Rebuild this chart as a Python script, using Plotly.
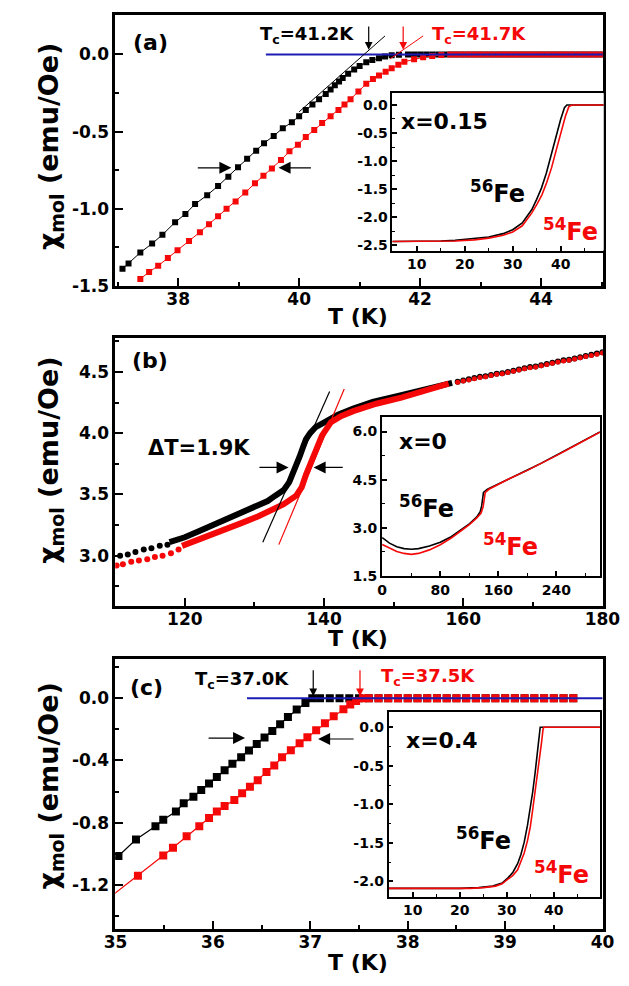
import plotly.graph_objects as go

W, H = 629, 986

# ---------------- data ----------------
# panel (a): x=0.15, main
A_T56 = [37.08, 37.18, 37.375, 37.57, 37.74, 37.95, 38.12, 38.28, 38.48, 38.66, 38.83, 38.99, 39.14,
         39.29, 39.42, 39.58, 39.73, 39.88, 40.0, 40.11, 40.22, 40.33, 40.44, 40.52, 40.59, 40.66,
         40.72, 40.81, 40.91, 41.0, 41.11, 41.21, 41.32, 41.42, 41.53, 41.65,
         41.8, 41.9, 42.0, 42.1, 42.2, 42.3, 42.4, 42.5, 42.6, 42.7, 42.8, 42.9, 43.0, 43.1, 43.2,
         43.3, 43.4, 43.5, 43.6, 43.7, 43.8, 43.9, 44.0, 44.1, 44.2, 44.3, 44.4, 44.5, 44.6, 44.7,
         44.8, 44.9, 45.0]
A_X56 = [-1.39, -1.355, -1.284, -1.226, -1.169, -1.088, -1.034, -0.970, -0.912, -0.853, -0.793,
         -0.731, -0.677, -0.624, -0.575, -0.528, -0.478, -0.44, -0.40, -0.36, -0.325, -0.29, -0.256,
         -0.228, -0.20, -0.175, -0.152, -0.125, -0.098, -0.075, -0.051, -0.036, -0.024, -0.013,
         -0.005, -0.002,
         0.0, 0.0, 0.0, 0.0, 0.0, 0.0, 0.0, 0.0, 0.0, 0.0, 0.0, 0.0, 0.0, 0.0, 0.0, 0.0, 0.0, 0.0,
         0.0, 0.0, 0.0, 0.0, 0.0, 0.0, 0.0, 0.0, 0.0, 0.0, 0.0, 0.0, 0.0, 0.0, 0.0]
A_T54 = [37.375, 37.52, 37.67, 37.83, 37.99, 38.18, 38.36, 38.51, 38.66, 38.80, 38.95, 39.11, 39.27,
         39.41, 39.55, 39.70, 39.84, 39.98, 40.11, 40.25, 40.38, 40.52, 40.65, 40.75, 40.85, 40.98,
         41.11, 41.22, 41.32, 41.43, 41.53, 41.64, 41.74, 41.9, 42.05, 42.2, 42.35,
         42.5, 42.6, 42.7, 42.8, 42.9, 43.0, 43.1, 43.2, 43.3, 43.4, 43.5, 43.6, 43.7, 43.8, 43.9,
         44.0, 44.1, 44.2, 44.3, 44.4, 44.5, 44.6, 44.7, 44.8, 44.9, 45.0]
A_X54 = [-1.455, -1.41, -1.37, -1.32, -1.27, -1.21, -1.152, -1.10, -1.049, -1.00, -0.953, -0.895,
         -0.835, -0.787, -0.739, -0.685, -0.628, -0.585, -0.535, -0.49, -0.445, -0.40, -0.361,
         -0.325, -0.29, -0.24, -0.19, -0.16, -0.137, -0.112, -0.09, -0.067, -0.047, -0.032, -0.019,
         -0.01, -0.004,
         0.0, 0.0, 0.0, 0.0, 0.0, 0.0, 0.0, 0.0, 0.0, 0.0, 0.0, 0.0, 0.0, 0.0, 0.0, 0.0, 0.0, 0.0,
         0.0, 0.0, 0.0, 0.0, 0.0, 0.0, 0.0, 0.0, 0.0, 0.0]
A_TAN56_T = [40.0, 41.42]
A_TAN56_X = [-0.372, 0.12]
A_TAN54_T = [41.5, 42.05]
A_TAN54_X = [-0.03, 0.12]
A_BASE_T = [39.45, 45.02]
A_BASE_X = [0.0, 0.0]
A_TC = [41.15, 41.72]

# panel (a) inset
AI_T56 = [4.9, 10, 15, 18, 22, 25, 28, 30, 32, 33, 34, 35, 36, 37, 38, 39, 40, 40.8, 41.3, 45, 49]
AI_X56 = [-2.43, -2.43, -2.42, -2.41, -2.38, -2.35, -2.29, -2.22, -2.10, -1.99, -1.86, -1.68,
          -1.48, -1.22, -0.92, -0.58, -0.26, -0.05, 0.0, 0.0, 0.0]
AI_T54 = [4.9, 10, 15, 18, 22, 25, 28, 30, 32, 33.1, 34, 35.1, 36.1, 37.1, 38.1, 39.1, 40.4, 41.0,
          41.7, 42.4, 45, 49]
AI_X54 = [-2.43, -2.43, -2.43, -2.42, -2.40, -2.37, -2.32, -2.26, -2.15, -2.03, -1.92, -1.76,
          -1.60, -1.38, -1.12, -0.80, -0.39, -0.20, -0.035, 0.0, 0.0, 0.0]

# panel (b): x=0, main
B_T56_LO = [110.7, 111.8, 112.9, 114.1, 115.2, 116.4, 117.5]
B_X56_LO = [3.0, 3.01, 3.03, 3.05, 3.06, 3.08, 3.09]
B_T56_MID = [117.8, 120, 122, 124, 126, 128.3, 130.5, 131.9, 133, 134.2, 135.0, 135.6, 136.1,
             136.5, 137.0, 137.4, 138.0, 138.8, 140.1, 142, 144.2, 147, 151.1, 155, 158.4]
B_X56_MID = [3.11, 3.15, 3.2, 3.25, 3.30, 3.35, 3.40, 3.446, 3.49, 3.535, 3.60, 3.676, 3.75,
             3.81, 3.89, 3.95, 4.0, 4.05, 4.09, 4.15, 4.2, 4.255, 4.31, 4.36, 4.41]
B_T_HI = [159.2, 160.0, 160.8, 161.6, 162.4, 163.2, 164.0, 164.8, 165.6, 166.4, 167.2, 168.0,
          168.8, 169.6, 170.4, 171.2, 172.0, 172.8, 173.6, 174.4, 175.2, 176.0, 176.8, 177.6,
          178.4, 179.2, 180.0]
B_X56_HI = [4.42, 4.43, 4.44, 4.45, 4.46, 4.465, 4.475, 4.485, 4.49, 4.50, 4.51, 4.52, 4.53,
            4.54, 4.545, 4.555, 4.565, 4.575, 4.585, 4.595, 4.60, 4.61, 4.62, 4.63, 4.64, 4.65,
            4.66]
B_X54_HI = [4.415, 4.425, 4.435, 4.445, 4.455, 4.46, 4.47, 4.48, 4.485, 4.495, 4.505, 4.515,
            4.525, 4.535, 4.54, 4.55, 4.56, 4.57, 4.58, 4.59, 4.595, 4.605, 4.615, 4.625, 4.635,
            4.645, 4.655]
B_T54_LO = [110.2, 111.1, 112.3, 113.4, 114.6, 115.7, 116.8, 118.0, 119.1]
B_X54_LO = [2.92, 2.93, 2.95, 2.96, 2.97, 2.99, 3.0, 3.02, 3.05]
B_T54_MID = [119.6, 122, 124, 126, 128.3, 130.5, 132.4, 134.2, 136, 136.8, 137.4, 138.1, 138.8,
             139.7, 141, 142.5, 144.2, 147.5, 151.1, 155, 157.9]
B_X54_MID = [3.08, 3.13, 3.18, 3.22, 3.27, 3.32, 3.37, 3.42, 3.49, 3.56, 3.66, 3.75, 3.84, 3.98,
             4.09, 4.14, 4.18, 4.24, 4.29, 4.35, 4.405]
B_TAN56_T = [131.2, 140.8]
B_TAN56_X = [3.11, 4.34]
B_TAN54_T = [133.5, 142.9]
B_TAN54_X = [3.09, 4.36]

# panel (b) inset
BI_T56 = [0, 10, 20, 30, 40, 50, 65, 80, 95, 110, 120, 130, 135, 137, 138, 139.5, 145, 160, 175,
          200, 218, 240, 262, 280, 300]
BI_X56 = [2.69, 2.52, 2.41, 2.35, 2.33, 2.35, 2.43, 2.55, 2.72, 2.95, 3.12, 3.33, 3.5, 3.68, 3.9,
          4.1, 4.2, 4.37, 4.54, 4.8, 5.0, 5.26, 5.53, 5.74, 5.99]
BI_T54 = [0, 10, 20, 30, 40, 50, 65, 80, 95, 110, 120, 130, 136, 139, 140.5, 142, 147, 160, 175,
          200, 218, 240, 262, 280, 300]
BI_X54 = [2.48, 2.36, 2.26, 2.2, 2.17, 2.2, 2.31, 2.47, 2.68, 2.93, 3.1, 3.3, 3.45, 3.65, 3.95,
          4.1, 4.2, 4.36, 4.53, 4.79, 4.99, 5.25, 5.52, 5.73, 5.98]

# panel (c): x=0.4, main
C_T56 = [34.9, 35.03, 35.21, 35.41, 35.49, 35.62, 35.70, 35.80, 35.88, 35.96, 36.04, 36.12, 36.20,
         36.29, 36.37, 36.45, 36.53, 36.61, 36.69, 36.77, 36.86, 36.95, 37.02,
         37.1, 37.2, 37.3, 37.4, 37.5, 37.6, 37.7, 37.8, 37.9, 38.0, 38.1, 38.2, 38.3, 38.4, 38.5,
         38.6, 38.7, 38.8, 38.9, 39.0, 39.1, 39.2, 39.3, 39.4, 39.5, 39.6, 39.7]
C_X56 = [-1.07, -1.014, -0.908, -0.823, -0.781, -0.728, -0.675, -0.633, -0.59, -0.548, -0.506,
         -0.463, -0.421, -0.379, -0.336, -0.294, -0.252, -0.21, -0.167, -0.12, -0.072, -0.03, 0.0,
         0.0, 0.0, 0.0, 0.0, 0.0, 0.0, 0.0, 0.0, 0.0, 0.0, 0.0, 0.0, 0.0, 0.0, 0.0, 0.0, 0.0, 0.0,
         0.0, 0.0, 0.0, 0.0, 0.0, 0.0, 0.0, 0.0, 0.0]
C_T54 = [34.9, 35.23, 35.49, 35.59, 35.73, 35.86, 35.96, 36.04, 36.12, 36.22, 36.30, 36.38, 36.46,
         36.55, 36.63, 36.71, 36.80, 36.89, 36.97, 37.06, 37.15, 37.24, 37.34, 37.41, 37.47, 37.54,
         37.6, 37.7, 37.8, 37.9, 38.0, 38.1, 38.2, 38.3, 38.4, 38.5, 38.6, 38.7, 38.8, 38.9, 39.0,
         39.1, 39.2, 39.3, 39.4, 39.5, 39.6, 39.7]
C_X54 = [-1.30, -1.141, -1.01, -0.961, -0.887, -0.823, -0.77, -0.728, -0.692, -0.654, -0.611,
         -0.569, -0.527, -0.474, -0.432, -0.379, -0.335, -0.29, -0.25, -0.205, -0.16, -0.115,
         -0.07, -0.04, -0.018, 0.0,
         0.0, 0.0, 0.0, 0.0, 0.0, 0.0, 0.0, 0.0, 0.0, 0.0, 0.0, 0.0, 0.0, 0.0, 0.0, 0.0, 0.0, 0.0,
         0.0, 0.0, 0.0, 0.0]
C_BASE_T = [36.35, 40.0]
C_BASE_X = [0.0, 0.0]
C_TC = [37.03, 37.51]

# panel (c) inset
CI_T56 = [4.9, 10, 15, 20, 24, 27, 29, 30.3, 31.3, 32.3, 33.0, 33.7, 34.4, 35.0, 35.5, 36.0, 36.5,
          36.9, 37.1, 40, 45, 49.8]
CI_X56 = [-2.09, -2.09, -2.09, -2.09, -2.08, -2.06, -2.02, -1.95, -1.88, -1.77, -1.65, -1.49,
          -1.27, -1.05, -0.84, -0.60, -0.30, -0.04, 0.0, 0.0, 0.0, 0.0]
CI_T54 = [4.9, 10, 15, 20, 22.2, 25, 27.6, 29, 30.3, 31.3, 32.3, 33.0, 33.7, 34.4, 35.0, 35.5,
          36.0, 36.5, 37.0, 37.4, 37.7, 37.85, 40, 45, 49.8]
CI_X54 = [-2.09, -2.09, -2.09, -2.09, -2.09, -2.08, -2.06, -2.03, -1.97, -1.92, -1.85, -1.75,
          -1.63, -1.47, -1.29, -1.07, -0.85, -0.62, -0.39, -0.19, -0.03, 0.0, 0.0, 0.0, 0.0]

# tick values / labels
A_XT = [38, 40, 42, 44]
A_YT = [0.0, -0.5, -1.0, -1.5]
A_YTT = ["0.0", "-0.5", "-1.0", "-1.5"]
AI_XT = [10, 20, 30, 40]
AI_YT = [0.0, -0.5, -1.0, -1.5, -2.0, -2.5]
AI_YTT = ["0.0", "-0.5", "-1.0", "-1.5", "-2.0", "-2.5"]
B_XT = [120, 140, 160, 180]
B_YT = [3.0, 3.5, 4.0, 4.5]
B_YTT = ["3.0", "3.5", "4.0", "4.5"]
BI_XT = [0, 80, 160, 240]
BI_YT = [1.5, 3.0, 4.5, 6.0]
BI_YTT = ["1.5", "3.0", "4.5", "6.0"]
C_XT = [35, 36, 37, 38, 39, 40]
C_YT = [0.0, -0.4, -0.8, -1.2]
C_YTT = ["0.0", "-0.4", "-0.8", "-1.2"]
CI_XT = [10, 20, 30, 40]
CI_YT = [0.0, -0.5, -1.0, -1.5, -2.0]
CI_YTT = ["0.0", "-0.5", "-1.0", "-1.5", "-2.0"]

# ---------------- figure ----------------
BLACK = "#000000"
RED = "#f40808"
BLUE = "#1c1cb4"
FONT = "DejaVu Sans"


def fx(p):
    return p / W


def fy(p):
    return 1 - p / H


fig = go.Figure()


def add(x, y, ax, mode="lines", color=BLACK, width=1, msym="square", msize=6):
    xa, ya = ax
    kw = dict(x=x, y=y, mode=mode, xaxis=xa, yaxis=ya, hoverinfo="skip", showlegend=False)
    if "lines" in mode:
        kw["line"] = dict(color=color, width=width)
    if "markers" in mode:
        kw["marker"] = dict(symbol=msym, size=msize, color=color, line=dict(width=0))
    fig.add_trace(go.Scatter(**kw))


# (a)
add(A_T56, A_X56, ("x", "y"), "lines+markers", BLACK, 1, "square", 6)
add(A_T54, A_X54, ("x", "y"), "lines+markers", RED, 1, "square", 6)
add(A_BASE_T, A_BASE_X, ("x", "y"), "lines", BLUE, 2)
add(A_TAN56_T, A_TAN56_X, ("x", "y"), "lines", BLACK, 1)
add(A_TAN54_T, A_TAN54_X, ("x", "y"), "lines", RED, 1)
add(AI_T56, AI_X56, ("x2", "y2"), "lines", BLACK, 1.6)
add(AI_T54, AI_X54, ("x2", "y2"), "lines", RED, 1.6)

# (b)
add(B_T56_LO, B_X56_LO, ("x3", "y3"), "markers", BLACK, msym="circle", msize=6)
add(B_T56_MID, B_X56_MID, ("x3", "y3"), "lines", BLACK, 6)
add(B_T54_LO, B_X54_LO, ("x3", "y3"), "markers", RED, msym="circle", msize=6)
add(B_T54_MID, B_X54_MID, ("x3", "y3"), "lines", RED, 6)
add(B_T_HI, B_X56_HI, ("x3", "y3"), "markers", BLACK, msym="circle", msize=6)
add(B_T_HI, B_X54_HI, ("x3", "y3"), "markers", RED, msym="circle", msize=5)
add(B_TAN56_T, B_TAN56_X, ("x3", "y3"), "lines", BLACK, 1.2)
add(B_TAN54_T, B_TAN54_X, ("x3", "y3"), "lines", RED, 1.2)
add(BI_T56, BI_X56, ("x4", "y4"), "lines", BLACK, 1.6)
add(BI_T54, BI_X54, ("x4", "y4"), "lines", RED, 1.6)

# (c)
add(C_T56, C_X56, ("x5", "y5"), "lines+markers", BLACK, 1.2, "square", 8)
add(C_T54, C_X54, ("x5", "y5"), "lines+markers", RED, 1.2, "square", 8)
add(C_BASE_T, C_BASE_X, ("x5", "y5"), "lines", BLUE, 2)
add(CI_T56, CI_X56, ("x6", "y6"), "lines", BLACK, 1.6)
add(CI_T54, CI_X54, ("x6", "y6"), "lines", RED, 1.6)


def main_x(dom, rng, tv, mdt, m0, anchor, standoff=-4):
    return dict(domain=dom, range=rng, anchor=anchor, showline=True, linecolor=BLACK,
                linewidth=2.5, mirror=True, ticks="inside", ticklen=8, tickwidth=2,
                tickcolor=BLACK, tickmode="array", tickvals=tv, ticktext=[str(v) for v in tv],
                minor=dict(ticks="inside", ticklen=4, tickwidth=2, tickcolor=BLACK,
                           tickmode="linear", tick0=m0, dtick=mdt),
                showgrid=False, zeroline=False, ticklabelstandoff=standoff,
                tickfont=dict(family=FONT, size=17, color=BLACK, weight="bold"))


def main_y(dom, rng, tv, tt, mdt, m0, anchor):
    d = main_x(dom, rng, tv, mdt, m0, anchor, standoff=0)
    d["ticktext"] = tt
    return d


def ins_x(dom, rng, tv, mdt, m0, anchor):
    return dict(domain=dom, range=rng, anchor=anchor, showline=True, linecolor=BLACK,
                linewidth=1.5, mirror=True, ticks="inside", ticklen=5, tickwidth=1.5,
                tickcolor=BLACK, tickmode="array", tickvals=tv, ticktext=[str(v) for v in tv],
                minor=dict(ticks="inside", ticklen=3, tickwidth=1.2, tickcolor=BLACK,
                           tickmode="linear", tick0=m0, dtick=mdt),
                showgrid=False, zeroline=False,
                tickfont=dict(family=FONT, size=14, color=BLACK, weight="bold"))


def ins_y(dom, rng, tv, tt, mdt, m0, anchor):
    d = ins_x(dom, rng, tv, mdt, m0, anchor)
    d["ticktext"] = tt
    return d


MX = [fx(100), fx(612)]
layout = dict(
    width=W, height=H, margin=dict(l=0, r=0, t=0, b=0),
    paper_bgcolor="white", plot_bgcolor="white", showlegend=False,
    font=dict(family=FONT, size=17, color=BLACK, weight="bold"),
    xaxis=main_x(MX, [36.96, 45.02], A_XT, 1, 37, "y"),
    yaxis=main_y([fy(281), fy(7)], [-1.502, 0.256], A_YT, A_YTT, 0.25, 0, "x"),
    xaxis2=ins_x([fx(391), fx(613)], [4.9, 49.0], AI_XT, 5, 5, "y2"),
    yaxis2=ins_y([fy(245), fy(86)], [-2.59, 0.21], AI_YT, AI_YTT, 0.25, 0, "x2"),
    xaxis3=main_x(MX, [110, 180.05], B_XT, 10, 110, "y3"),
    yaxis3=main_y([fy(604), fy(333)], [2.59, 4.78], B_YT, B_YTT, 0.25, 3.0, "x3"),
    xaxis4=ins_x([fx(380), fx(609)], [-0.5, 300], BI_XT, 40, 0, "y4"),
    yaxis4=ins_y([fy(574), fy(413)], [1.49, 6.46], BI_YT, BI_YTT, 0.75, 1.5, "x4"),
    xaxis5=main_x(MX, [34.997, 40.003], C_XT, 0.5, 35, "y5"),
    yaxis5=main_y([fy(930), fy(658)], [-1.48, 0.25], C_YT, C_YTT, 0.2, 0, "x5"),
    xaxis6=ins_x([fx(387), fx(609)], [4.86, 49.8], CI_XT, 5, 5, "y6"),
    yaxis6=ins_y([fy(898), fy(711)], [-2.2, 0.2], CI_YT, CI_YTT, 0.25, 0, "x6"),
)
fig.update_layout(**layout)

ann = []


def text(x, y, s, size, color=BLACK, angle=0):
    ann.append(dict(x=fx(x), y=fy(y), xref="paper", yref="paper", text=s, showarrow=False,
                    xanchor="center", yanchor="middle", textangle=angle,
                    font=dict(family=FONT, size=size, color=color, weight="bold")))


def arrow(x, y, axv, ayv, xr, yr, color=BLACK, size=1.6, width=1.3):
    ann.append(dict(x=x, y=y, ax=axv, ay=ayv, xref=xr, yref=yr, axref=xr, ayref=yr, text="",
                    showarrow=True, arrowhead=2, arrowsize=size, arrowwidth=width,
                    arrowcolor=color, standoff=0, startstandoff=0,
                    font=dict(family=FONT, size=10, color=color)))


YT = "χ<sub>mol</sub> (emu/Oe)"
# titles
text(32, 140, YT, 27, angle=-90)
text(32, 457, YT, 27, angle=-90)
text(32, 786, YT, 27, angle=-90)
text(355, 312, "T (K)", 22)
text(355, 637, "T (K)", 22)
text(355, 964, "T (K)", 22)

# panel labels
text(137, 35, "(a)", 22)
text(136, 356, "(b)", 22)
text(133, 686, "(c)", 22)

# Tc labels
text(301, 27, "T<sub>c</sub>=41.2K", 18)
text(482, 27, "T<sub>c</sub>=41.7K", 18, RED)
text(233, 679, "T<sub>c</sub>=37.0K", 18)
text(428, 676, "T<sub>c</sub>=37.5K", 18, RED)
text(188, 445, "ΔT=1.9K", 21)

# inset labels
text(446, 115, "x=0.15", 22)
text(501, 186, "<sup>56</sup>Fe", 24)
text(578, 224, "<sup>54</sup>Fe", 24, RED)
text(423, 438, "x=0", 22)
text(427, 504, "<sup>56</sup>Fe", 24)
text(515, 543, "<sup>54</sup>Fe", 24, RED)
text(443, 740, "x=0.4", 22)
text(487, 840, "<sup>56</sup>Fe", 24)
text(569, 874, "<sup>54</sup>Fe", 24, RED)

# arrows (a)
arrow(A_TC[0], 0.03, A_TC[0], 0.19, "x", "y", BLACK, 1.3, 1.2)
arrow(A_TC[1], 0.03, A_TC[1], 0.19, "x", "y", RED, 1.3, 1.2)
arrow(38.88, -0.735, 38.3, -0.735, "x", "y", BLACK, 2.0, 1.2)
arrow(39.66, -0.735, 40.22, -0.735, "x", "y", BLACK, 2.0, 1.2)
# arrows (b)
arrow(134.9, 3.72, 130.5, 3.72, "x3", "y3", BLACK, 2.0, 1.2)
arrow(138.5, 3.72, 142.9, 3.72, "x3", "y3", BLACK, 2.0, 1.2)
# arrows (c)
arrow(C_TC[0], 0.013, C_TC[0], 0.19, "x5", "y5", BLACK, 1.3, 1.2)
arrow(C_TC[1], 0.013, C_TC[1], 0.19, "x5", "y5", RED, 1.3, 1.2)
arrow(36.33, -0.256, 35.94, -0.256, "x5", "y5", BLACK, 2.0, 1.2)
arrow(37.08, -0.262, 37.46, -0.262, "x5", "y5", BLACK, 2.0, 1.2)

fig.update_layout(annotations=ann)
fig.write_html("out.html")
